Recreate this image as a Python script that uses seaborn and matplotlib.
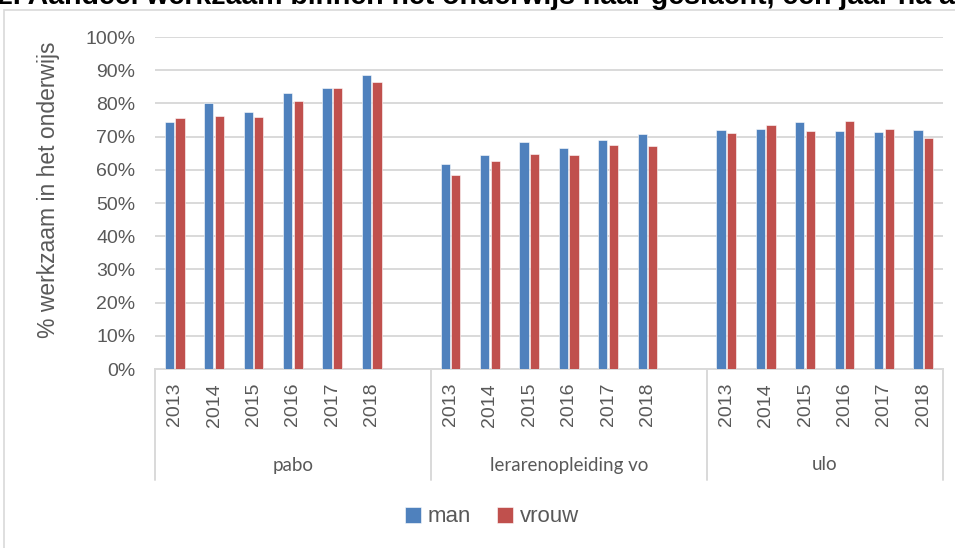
import numpy as np
import pandas as pd
import matplotlib
matplotlib.use("Agg")
import matplotlib.pyplot as plt
import matplotlib.transforms as mtransforms
from matplotlib.patches import Rectangle
import seaborn as sns

# data (percentages)
years = ['2013', '2014', '2015', '2016', '2017', '2018']
opleidingen = ['pabo', 'lerarenopleiding vo', 'ulo']
pabo_man = [74.5, 80.2, 77.5, 83.1, 84.6, 88.7]
pabo_vrouw = [75.5, 76.2, 75.8, 80.6, 84.5, 86.4]
lerar_man = [61.8, 64.6, 68.4, 66.5, 69.0, 70.8]
lerar_vrouw = [58.5, 62.6, 64.8, 64.6, 67.4, 67.2]
ulo_man = [72.0, 72.2, 74.4, 71.6, 71.4, 71.9]
ulo_vrouw = [71.1, 73.6, 71.6, 74.7, 72.2, 69.7]

man = {'pabo': pabo_man, 'lerarenopleiding vo': lerar_man, 'ulo': ulo_man}
vrouw = {'pabo': pabo_vrouw, 'lerarenopleiding vo': lerar_vrouw, 'ulo': ulo_vrouw}

rows = []
for opl in opleidingen:
    for i, y in enumerate(years):
        rows.append((opl + ' ' + y, 'man', man[opl][i]))
        rows.append((opl + ' ' + y, 'vrouw', vrouw[opl][i]))
df = pd.DataFrame(rows, columns=['slot', 'geslacht', 'waarde'])

# slot order, with an empty slot after pabo and lerarenopleiding vo (like excel)
order = []
for k, opl in enumerate(opleidingen):
    order += [opl + ' ' + y for y in years]
    if k < len(opleidingen) - 1:
        order.append('leeg%d' % k)

sns.set_style('white')
plt.rcParams['font.family'] = ['Liberation Sans', 'DejaVu Sans']
grijs = '#595959'

fig = plt.figure(figsize=(9.55, 5.48), dpi=100)
ax = fig.add_axes([155 / 955, 1 - 369 / 548, (943 - 155) / 955, (369 - 37) / 548])

sns.barplot(data=df, x='slot', y='waarde', hue='geslacht', order=order,
            hue_order=['man', 'vrouw'], palette=['#4F81BD', '#C0504D'],
            saturation=1, width=0.54, gap=0.14, edgecolor='white', linewidth=0.4,
            errorbar=None, ax=ax, zorder=3)

ax.set_ylim(0, 100)
ax.set_xlim(-0.5, len(order) - 0.5)
ax.set_yticks(np.arange(0, 101, 10))
ax.set_yticklabels(['%d%%' % v for v in range(0, 101, 10)], fontsize=14, color=grijs)
ax.yaxis.grid(True, color='#D9D9D9', linewidth=1.4, zorder=0)
ax.set_axisbelow(True)
for s in ['left', 'right', 'top']:
    ax.spines[s].set_visible(False)
ax.spines['bottom'].set_color('#D9D9D9')
ax.spines['bottom'].set_linewidth(1.4)
ax.tick_params(axis='y', length=0, pad=14)

pos = [order.index(s) for s in order if not s.startswith('leeg')]
ax.set_xticks(pos)
ax.set_xticklabels([s.split(' ')[-1] for s in order if not s.startswith('leeg')],
                   rotation=90, fontsize=14, color=grijs)
ax.tick_params(axis='x', length=0, pad=10)
ax.set_xlabel('')
ax.set_ylabel('% werkzaam in het onderwijs', fontsize=16.5, color=grijs)
ax.yaxis.set_label_coords((60 - 155) / 788, (369 - 190) / 332)

# group labels and separators under the axis
trans = mtransforms.blended_transform_factory(ax.transData, ax.transAxes)
grenzen = [-0.5, 6.5, 13.5, 19.5]
for k, opl in enumerate(opleidingen):
    midden = (grenzen[k] + grenzen[k + 1]) / 2
    ax.text(midden, -(465 - 369) / 332, opl, transform=trans, ha='center',
            va='center', fontsize=13.5, color=grijs, family=['Lato', 'DejaVu Sans'])
for g in grenzen:
    ax.plot([g, g], [0, -(480 - 369) / 332], transform=trans, color='#D9D9D9',
            linewidth=1.4, clip_on=False)

sns.move_legend(ax, 'center', bbox_to_anchor=(492 / 955, 1 - 517 / 548),
                bbox_transform=fig.transFigure, ncol=2, frameon=False, title=None,
                fontsize=16, handlelength=0.7, handleheight=0.7, handletextpad=0.3,
                columnspacing=1.2, labelcolor=grijs)

# chart border and the (cut off) title
fig.patches.append(Rectangle((4 / 955, -0.1), 1.2, 1.1 - 10 / 548, fill=False,
                             edgecolor='#D9D9D9', linewidth=1.2,
                             transform=fig.transFigure, figure=fig))
fig.text(-0.003, 1 - 4 / 548, '2. Aandeel werkzaam binnen het onderwijs naar geslacht, één jaar na afstuderen',
         fontsize=20.5, fontweight='bold', color='black', va='baseline', ha='left')

fig.savefig('out.png', dpi=100)
